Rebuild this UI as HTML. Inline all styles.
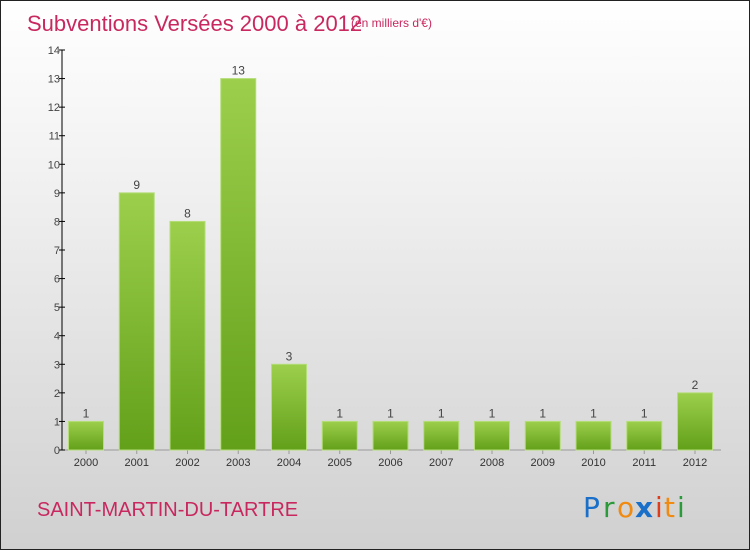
<!DOCTYPE html>
<html><head><meta charset="utf-8"><style>
html,body{margin:0;padding:0}
body{width:750px;height:550px;overflow:hidden;font-family:"Liberation Sans",sans-serif}
#wrap{position:relative;width:748px;height:548px;border:1px solid #222;background:linear-gradient(#ffffff 0%,#f2f2f2 30%,#d0d0d0 100%)}
</style></head><body>
<div id="wrap">
<svg id="chart" width="748" height="548" style="position:absolute;left:0;top:0">
<defs><linearGradient id="g" x1="0" y1="0" x2="0" y2="1"><stop offset="0" stop-color="#9ccf4c"/><stop offset="1" stop-color="#63a01a"/></linearGradient></defs>
<text x="26" y="30" font-size="22" fill="#c8285f">Subventions Versées 2000 à 2012</text>
<text x="350" y="26" font-size="12" fill="#c8285f">(en milliers d'€)</text>
<text x="36" y="515" font-size="20" fill="#c8285f">SAINT-MARTIN-DU-TARTRE</text>
<g font-size="28" font-family="'DejaVu Sans',sans-serif">
<text x="582" y="516" fill="#1a6fc9">P</text><text x="602" y="516" fill="#2b9a3a">r</text><text x="616" y="516" fill="#f08a10">o</text><text x="634" y="516" fill="#1a6fc9" font-weight="bold">x</text><text x="654" y="516" fill="#e03c1c">i</text><text x="663" y="516" fill="#f08a10">t</text><text x="676" y="516" fill="#2b9a3a">i</text>
</g>
<g id="axes"></g><g id="bars"></g>
</svg>
</div>
<script>
const categories=["2000","2001","2002","2003","2004","2005","2006","2007","2008","2009","2010","2011","2012"];
const values=[1,9,8,13,3,1,1,1,1,1,1,1,2];
const yTicks=[0,1,2,3,4,5,6,7,8,9,10,11,12,13,14];
const NS="http://www.w3.org/2000/svg";
const y0=449,y1=49,ymax=14,axisX=61,x0=85,step=50.75,bw=35;
function yS(v){return y0-(v/ymax)*(y0-y1);}
function xS(i){return x0+i*step;}
function mk(t,a,p){const e=document.createElementNS(NS,t);for(const k in a)e.setAttribute(k,a[k]);p.appendChild(e);return e;}
const ax=document.getElementById('axes'),bs=document.getElementById('bars');
const yl=mk('line',{x1:axisX,y1:y1,x2:axisX,y2:y0,stroke:'#000'},ax);


const xl=mk('line',{x1:axisX,y1:y0,x2:720,y2:y0,stroke:'#999'},ax);


yTicks.forEach(v=>{
 const tk=mk('line',{x1:axisX-3,y1:yS(v),x2:axisX+3,y2:yS(v),stroke:'#000'},ax);
 
 
 const t=mk('text',{x:axisX-2,y:yS(v)+4,'font-size':11,fill:'#444','text-anchor':'end'},ax);
 
 
 t.textContent=v;
});
categories.forEach((c,i)=>{
 const cx=xS(i),v=values[i];
 const r=mk('rect',{x:cx-bw/2,y:yS(v),width:bw,height:y0-yS(v),fill:'url(#g)',stroke:'#b5dd7a','stroke-width':1},bs);
 
 
 const l=mk('text',{x:cx,y:yS(v)-4,'font-size':12,fill:'#444','text-anchor':'middle'},bs);
 
 
 l.textContent=v;
 const tk=mk('line',{x1:cx,y1:y0,x2:cx,y2:y0+4,stroke:'#999'},ax);
 
 
 const xt=mk('text',{x:cx,y:y0+16,'font-size':11,fill:'#333','text-anchor':'middle'},ax);
 
 
 xt.textContent=c;
});
</script>
</body></html>
